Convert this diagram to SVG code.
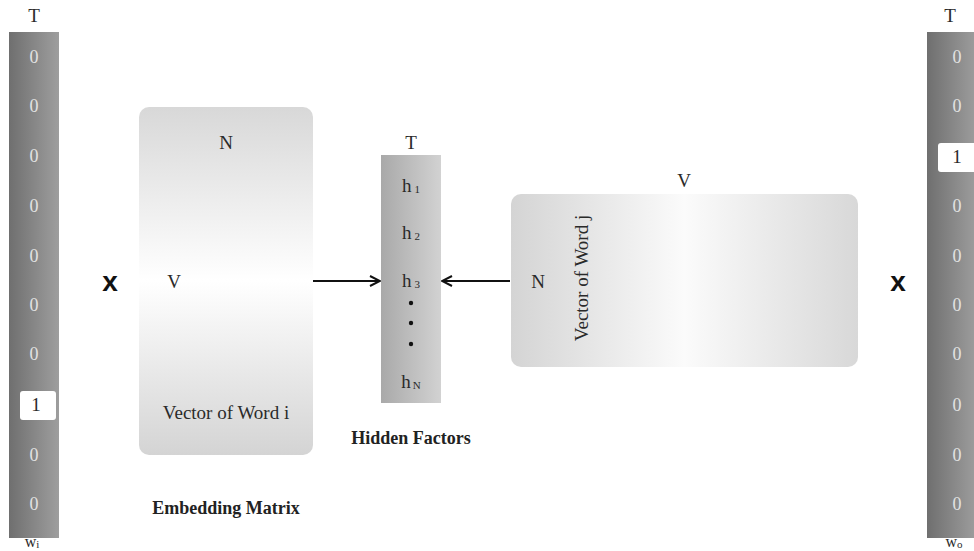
<svg xmlns="http://www.w3.org/2000/svg" width="974" height="551" viewBox="0 0 974 551">
  <style>
    .t { font-family: "Liberation Serif", "Times New Roman", serif; font-size: 19px; fill: #2a2a2a; text-anchor: middle; }
    .z { font-family: "Liberation Serif", "Times New Roman", serif; font-size: 18px; fill: #e2e2e2; text-anchor: middle; }
    .b { font-family: "Liberation Serif", "Times New Roman", serif; font-size: 18px; font-weight: bold; fill: #222; text-anchor: middle; }
    .sub { font-size: 11px; }
    .x { font-family: "Liberation Sans", Arial, sans-serif; font-size: 28px; font-weight: bold; fill: #111; text-anchor: middle; }
    .conn { stroke: #111; stroke-width: 2; fill: none; }
  </style>
  <defs>
    <linearGradient id="barGrad" x1="0" y1="0" x2="1" y2="0">
      <stop offset="0" stop-color="#6f6f6f"/>
      <stop offset="1" stop-color="#9e9e9e"/>
    </linearGradient>
    <linearGradient id="vGrad" x1="0" y1="0" x2="0" y2="1">
      <stop offset="0" stop-color="#d8d8d8"/>
      <stop offset="0.5" stop-color="#ffffff"/>
      <stop offset="1" stop-color="#d4d4d4"/>
    </linearGradient>
    <linearGradient id="hGrad" x1="0" y1="0" x2="1" y2="0">
      <stop offset="0" stop-color="#d4d4d4"/>
      <stop offset="0.5" stop-color="#fbfbfb"/>
      <stop offset="1" stop-color="#d8d8d8"/>
    </linearGradient>
    <linearGradient id="hidGrad" x1="0" y1="0" x2="1" y2="0">
      <stop offset="0" stop-color="#a9a9a9"/>
      <stop offset="1" stop-color="#d2d2d2"/>
    </linearGradient>
    <marker id="arrow" viewBox="0 0 12 12" refX="11" refY="6" markerWidth="12" markerHeight="12" markerUnits="userSpaceOnUse" orient="auto">
      <path d="M1,1 L11,6 L1,11" fill="none" stroke="#111" stroke-width="2"/>
    </marker>
  </defs>

  <rect width="974" height="551" fill="#ffffff"/>

  <!-- one-hot input vector w_i -->
  <g id="input-vector">
    <text class="t" x="34" y="22">T</text>
    <rect x="9" y="32" width="50" height="506" fill="url(#barGrad)"/>
    <text class="z" x="34" y="63">0</text>
    <text class="z" x="34" y="112">0</text>
    <text class="z" x="34" y="162">0</text>
    <text class="z" x="34" y="212">0</text>
    <text class="z" x="34" y="262">0</text>
    <text class="z" x="34" y="311">0</text>
    <text class="z" x="34" y="360">0</text>
    <rect x="20" y="391" width="36" height="29" rx="3" fill="#ffffff"/>
    <text class="t" x="36" y="411">1</text>
    <text class="z" x="34" y="461">0</text>
    <text class="z" x="34" y="510">0</text>
    <text class="t" x="32" y="547" style="font-size:16px">w<tspan class="sub" dy="1">i</tspan></text>
  </g>

  <!-- multiplication signs -->
  <g id="mul-left"><text class="x" x="110" y="291">x</text></g>
  <g id="mul-right"><text class="x" x="898" y="291">x</text></g>

  <!-- embedding matrix -->
  <g id="embedding-matrix">
    <rect x="139" y="107" width="174" height="348" rx="10" fill="url(#vGrad)"/>
    <text class="t" x="226" y="149">N</text>
    <text class="t" x="174" y="288">V</text>
    <text class="t" x="226" y="419">Vector of Word i</text>
    <text class="b" x="226" y="514">Embedding Matrix</text>
  </g>

  <!-- hidden factors -->
  <g id="hidden-factors">
    <text class="t" x="411" y="149">T</text>
    <rect x="381" y="155" width="60" height="248" fill="url(#hidGrad)"/>
    <text class="t" x="411" y="192">h<tspan class="sub" dx="3" dy="1">1</tspan></text>
    <text class="t" x="411" y="239">h<tspan class="sub" dx="3" dy="1">2</tspan></text>
    <text class="t" x="411" y="287">h<tspan class="sub" dx="3" dy="1">3</tspan></text>
    <circle cx="411" cy="303" r="2.2" fill="#111"/>
    <circle cx="411" cy="323" r="2.2" fill="#111"/>
    <circle cx="411" cy="344" r="2.2" fill="#111"/>
    <text class="t" x="411" y="388">h<tspan class="sub" dx="2" dy="1">N</tspan></text>
    <text class="b" x="411" y="444">Hidden Factors</text>
  </g>

  <!-- context matrix -->
  <g id="context-matrix">
    <text class="t" x="684" y="187">V</text>
    <rect x="511" y="194" width="347" height="173" rx="10" fill="url(#hGrad)"/>
    <text class="t" x="538" y="288">N</text>
    <text class="t" transform="translate(588,278) rotate(-90)" x="0" y="0">Vector of Word j</text>
  </g>

  <!-- one-hot output vector w_o -->
  <g id="output-vector">
    <text class="t" x="950" y="22">T</text>
    <rect x="927" y="32" width="50" height="506" fill="url(#barGrad)"/>
    <text class="z" x="957" y="63">0</text>
    <text class="z" x="957" y="112">0</text>
    <rect x="938" y="143" width="40" height="29" rx="3" fill="#ffffff"/>
    <text class="t" x="957" y="163">1</text>
    <text class="z" x="957" y="212">0</text>
    <text class="z" x="957" y="262">0</text>
    <text class="z" x="957" y="311">0</text>
    <text class="z" x="957" y="360">0</text>
    <text class="z" x="957" y="411">0</text>
    <text class="z" x="957" y="461">0</text>
    <text class="z" x="957" y="510">0</text>
    <text class="t" x="954" y="547" style="font-size:16px">w<tspan class="sub" dy="1">o</tspan></text>
  </g>

  <!-- connectors -->
  <g id="connectors">
    <line class="conn" x1="313" y1="281" x2="380" y2="281" marker-end="url(#arrow)"/>
    <line class="conn" x1="510" y1="281" x2="442" y2="281" marker-end="url(#arrow)"/>
  </g>
</svg>
